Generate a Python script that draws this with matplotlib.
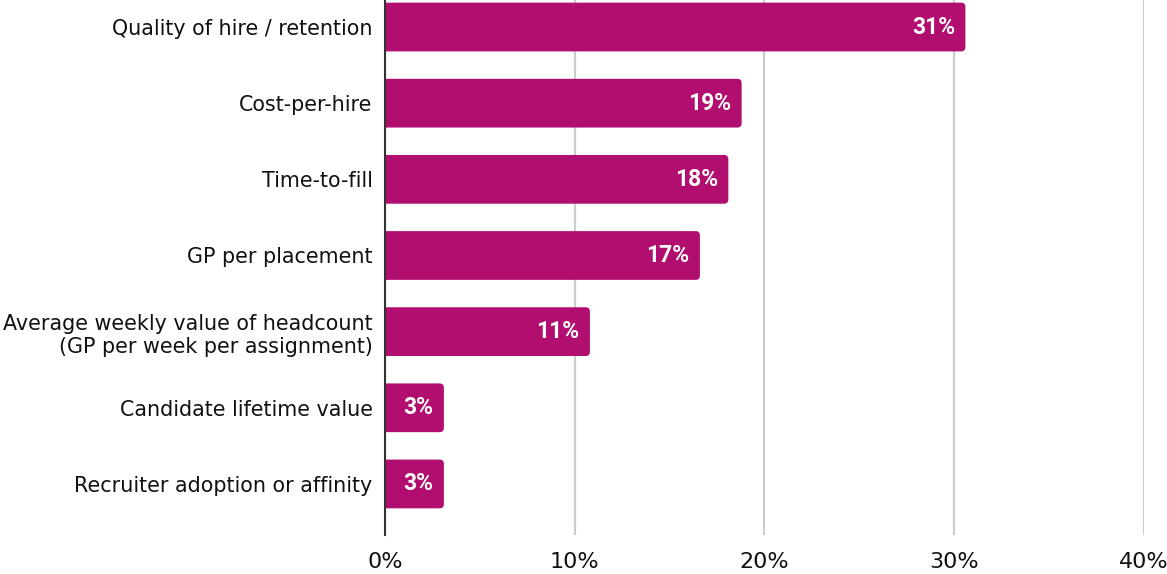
import matplotlib.pyplot as plt
from matplotlib.patches import FancyBboxPatch

# Share of respondents naming each metric
metrics = [
    'Quality of hire / retention',
    'Cost-per-hire',
    'Time-to-fill',
    'GP per placement',
    'Average weekly value of headcount\n(GP per week per assignment)',
    'Candidate lifetime value',
    'Recruiter adoption or affinity',
]
shares = [30.6, 18.8, 18.1, 16.6, 10.8, 3.1, 3.1]
ticks = [0, 10, 20, 30, 40]

bar_color = '#B10E70'

fig = plt.figure(figsize=(11.67, 5.74), dpi=100)
ax = fig.add_axes([0.33, 0.068, 0.65, 0.932])

bars = ax.barh(range(len(metrics)), shares, height=0.64, color=bar_color)

ax.set_xlim(0, 40)
ax.set_ylim(6.67, -0.355)

# swap the plain rectangles for ones with slightly rounded ends
for b in bars:
    x, y = b.get_x(), b.get_y()
    w, h = b.get_width(), b.get_height()
    b.set_visible(False)
    p = FancyBboxPatch((x - 1, y), w + 1, h,
                       boxstyle='round,pad=0,rounding_size=0.22',
                       mutation_aspect=0.26,
                       facecolor=bar_color, edgecolor='none', zorder=3)
    ax.add_patch(p)

for i, v in enumerate(shares):
    ax.text(v - 0.55, i, f'{v:.0f}%', ha='right', va='center',
            color='white', fontsize=16.5, fontweight='bold',
            family='Roboto', zorder=4)

ax.set_yticks(range(len(metrics)))
ax.set_yticklabels(metrics, fontsize=14.9, color='#111111')
ax.set_xticks(ticks)
ax.set_xticklabels([f'{t}%' for t in ticks], fontsize=16, color='#111111')
ax.tick_params(axis='both', length=0)
ax.tick_params(axis='y', pad=9)
ax.tick_params(axis='x', pad=12)

ax.grid(axis='x', color='#cccccc', linewidth=1.6, zorder=0)
ax.set_axisbelow(True)
for s in ['top', 'right', 'bottom']:
    ax.spines[s].set_visible(False)
ax.spines['left'].set_color('#333333')
ax.spines['left'].set_linewidth(1.5)
ax.spines['left'].set_zorder(5)

fig.savefig('out.png')
